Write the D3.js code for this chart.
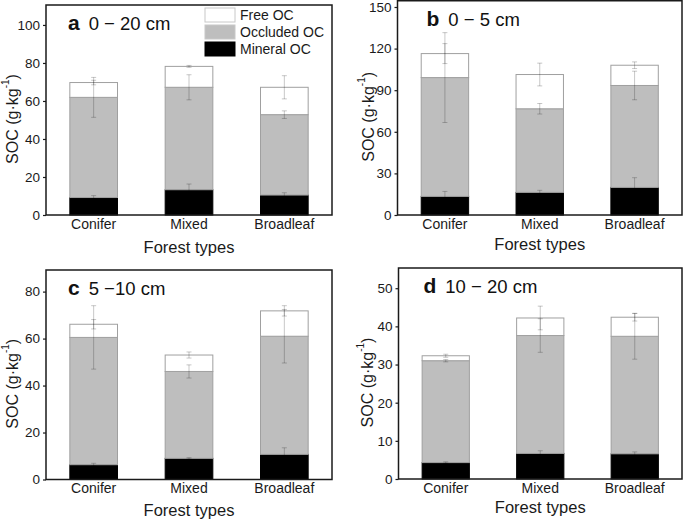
<!DOCTYPE html>
<html>
<head>
<meta charset="utf-8">
<script src="https://cdn.jsdelivr.net/npm/d3@7"></script>
<style>
  body { margin: 0; background: #fff; }
  svg { display: block; font-family: Arial, "Liberation Sans", sans-serif; }
</style>
</head>
<body>
<svg id="chart" width="685" height="520"></svg>
<script>
// categories and fractions
const categories = ["Conifer", "Mixed", "Broadleaf"];
const fractions = ["mineral", "occluded", "free"];
const fractionNames = ["Free OC", "Occluded OC", "Mineral OC"];

// a: 0-20 cm
const mineralA = [9.2, 13.3, 10.5];
const occludedA = [52.7, 53.9, 42.3];
const freeA = [7.8, 11.0, 14.4];
const mineralErrA = [1.0, 3.0, 1.2];
const occludedErrA = [10.5, 6.6, 2.0];
const freeErrA = [1.2, 0.5, 6.1];

// b: 0-5 cm
const mineralB = [13.4, 16.3, 19.9];
const occludedB = [85.7, 60.3, 73.5];
const freeB = [17.3, 24.7, 14.6];
const mineralErrB = [3.6, 1.5, 7.0];
const occludedErrB = [32.4, 3.8, 10.3];
const freeErrB = [7.2, 8.2, 2.4];

// c: 5-10 cm
const mineralC = [6.3, 9.0, 10.7];
const occludedC = [54.2, 37.0, 50.3];
const freeC = [5.6, 7.0, 10.8];
const mineralErrC = [0.6, 0.3, 2.8];
const occludedErrC = [13.5, 2.8, 11.4];
const freeErrC = [2.0, 1.3, 2.2];

// d: 10-20 cm
const mineralD = [4.3, 6.7, 6.6];
const occludedD = [26.7, 30.9, 30.8];
const freeD = [1.3, 4.6, 5.0];
const mineralErrD = [0.2, 0.7, 0.5];
const occludedErrD = [0.3, 4.4, 6.0];
const freeErrD = [0.4, 3.1, 1.0];

// tick labels
const ticksA = [0, 20, 40, 60, 80, 100];
const ticksB = [0, 30, 60, 90, 120, 150];
const ticksC = [0, 20, 40, 60, 80];
const ticksD = [0, 10, 20, 30, 40, 50];

const colors = { mineral: "#000000", occluded: "#bebebe", free: "#ffffff" };

const panels = [
  { letter: "a", depth: "0 \u2212 20 cm", x0: 46, x1: 332, y0: 5, y1: 215, ymax: 110.5,
    ticks: ticksA, vals: [mineralA, occludedA, freeA], errs: [mineralErrA, occludedErrA, freeErrA],
    letterDx: 22, titleDy: 38, ylabX: 12, legend: true },
  { letter: "b", depth: "0 \u2212 5 cm", x0: 397.5, x1: 682, y0: 0.75, y1: 215, ymax: 154.5,
    ticks: ticksB, vals: [mineralB, occludedB, freeB], errs: [mineralErrB, occludedErrB, freeErrB],
    letterDx: 29, titleDy: 35, ylabX: 368 },
  { letter: "c", depth: "5 \u221210 cm", x0: 46, x1: 332, y0: 270, y1: 479.5, ymax: 89.2,
    ticks: ticksC, vals: [mineralC, occludedC, freeC], errs: [mineralErrC, occludedErrC, freeErrC],
    letterDx: 22, titleDy: 36, ylabX: 12 },
  { letter: "d", depth: "10 \u2212 20 cm", x0: 398.5, x1: 682, y0: 268, y1: 479, ymax: 55.3,
    ticks: ticksD, vals: [mineralD, occludedD, freeD], errs: [mineralErrD, occludedErrD, freeErrD],
    letterDx: 25, titleDy: 34, ylabX: 367 }
];

const svg = d3.select("#chart");

panels.forEach(p => {
  const g = svg.append("g");

  const x = d3.scaleBand().domain(categories).range([p.x0, p.x1])
    .paddingInner(0.5).paddingOuter(0.25);
  const y = d3.scaleLinear().domain([0, p.ymax]).range([p.y1, p.y0]);

  const rows = categories.map((c, i) => {
    const r = { cat: c };
    fractions.forEach((f, k) => { r[f] = p.vals[k][i]; r[f + "Err"] = p.errs[k][i]; });
    return r;
  });
  const series = d3.stack().keys(fractions)(rows);

  // bars
  series.forEach(s => {
    g.selectAll(null).data(s).enter().append("rect")
      .attr("x", d => x(d.data.cat))
      .attr("width", x.bandwidth())
      .attr("y", d => y(d[1]))
      .attr("height", d => y(d[0]) - y(d[1]))
      .attr("fill", colors[s.key])
      .attr("stroke", s.key === "mineral" ? "#000" : "#a0a0a0")
      .attr("stroke-width", 1);
  });

  // error bars at top of each segment (translucent, so they vanish on black)
  series.forEach(s => {
    const eg = g.append("g").attr("stroke", "#000").attr("stroke-opacity", 0.22)
      .attr("stroke-width", 1).attr("fill", "none");
    s.forEach(d => {
      const cx = x(d.data.cat) + x.bandwidth() / 2;
      const e = d.data[s.key + "Err"];
      const hi = y(d[1] + e), lo = y(d[1] - e);
      eg.append("line").attr("x1", cx).attr("x2", cx).attr("y1", hi).attr("y2", lo);
      eg.append("line").attr("x1", cx - 2.5).attr("x2", cx + 2.5).attr("y1", hi).attr("y2", hi);
      eg.append("line").attr("x1", cx - 2.5).attr("x2", cx + 2.5).attr("y1", lo).attr("y2", lo);
    });
  });

  // frame
  g.append("rect")
    .attr("x", p.x0).attr("y", p.y0)
    .attr("width", p.x1 - p.x0).attr("height", p.y1 - p.y0)
    .attr("fill", "none").attr("stroke", "#1a1a1a").attr("stroke-width", 1.5);

  // y axis
  const ya = g.append("g").attr("transform", `translate(${p.x0},0)`)
    .call(d3.axisLeft(y).tickValues(p.ticks).tickSize(3).tickPadding(3));
  ya.select(".domain").remove();
  ya.selectAll("line").attr("stroke", "#1a1a1a").attr("stroke-width", 1.2);
  ya.selectAll("text").attr("font-size", 13.5).attr("fill", "#1a1a1a")
    .attr("font-family", "Arial, 'Liberation Sans', sans-serif");

  // x axis labels
  const xa = g.append("g").attr("transform", `translate(0,${p.y1})`)
    .call(d3.axisBottom(x).tickSize(0).tickPadding(4));
  xa.select(".domain").remove();
  xa.selectAll("text").attr("font-size", 14).attr("fill", "#1a1a1a")
    .attr("font-family", "Arial, 'Liberation Sans', sans-serif");

  g.append("text")
    .attr("x", (p.x0 + p.x1) / 2).attr("y", p.y1 + p.titleDy)
    .attr("text-anchor", "middle").attr("font-size", 16.5).attr("fill", "#1a1a1a")
    .text("Forest types");

  const yl = g.append("text")
    .attr("transform", `translate(${p.ylabX},${(p.y0 + p.y1) / 2 + 9}) rotate(-90)`)
    .attr("text-anchor", "middle").attr("dominant-baseline", "central")
    .attr("font-size", 16).attr("fill", "#1a1a1a");
  yl.append("tspan").text("SOC (g\u00b7kg");
  yl.append("tspan").attr("font-size", 10).attr("dy", -7).text("-1");
  yl.append("tspan").attr("dy", 7).text(")");

  // panel title
  const t = g.append("text")
    .attr("x", p.x0 + p.letterDx).attr("y", p.y0 + 25)
    .attr("fill", "#111");
  t.append("tspan").attr("font-size", 21).attr("font-weight", "bold").text(p.letter);
  t.append("tspan").attr("font-size", 18.5).attr("dx", 9).text(p.depth);

  // legend
  if (p.legend) {
    const lg = g.append("g");
    const keys = ["free", "occluded", "mineral"];
    keys.forEach((k, i) => {
      const yy = p.y0 + 3 + i * 17;
      lg.append("rect").attr("x", 205).attr("y", yy).attr("width", 30).attr("height", 14)
        .attr("fill", colors[k]).attr("stroke", k === "mineral" ? "#000" : "#c8c8c8");
      lg.append("text").attr("x", 240).attr("y", yy + 12)
        .attr("font-size", 14).attr("fill", "#1a1a1a").text(fractionNames[i]);
    });
  }
});
</script>
</body>
</html>
